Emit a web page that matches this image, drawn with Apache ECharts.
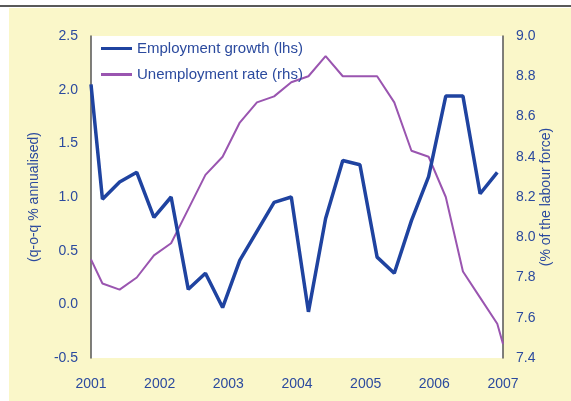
<!DOCTYPE html>
<html>
<head>
<meta charset="utf-8">
<script src="https://cdn.jsdelivr.net/npm/echarts@6/dist/echarts.min.js"></script>
<style>
html,body{margin:0;padding:0;background:#fff;}
#chart{width:571px;height:401px;}
</style>
</head>
<body>
<div id="chart"></div>
<script>
// Dates (year-month); first / last entries are where the lines meet the axis edges
const empDates = ['2001-01','2001-03','2001-06','2001-09','2001-12','2002-03','2002-06','2002-09','2002-12',
  '2003-03','2003-06','2003-09','2003-12','2004-03','2004-06','2004-09','2004-12',
  '2005-03','2005-06','2005-09','2005-12','2006-03','2006-06','2006-09','2006-12'];
const empGrowth = [2.05,0.98,1.14,1.23,0.81,1.00,0.14,0.29,-0.03,
  0.41,0.68,0.95,1.00,-0.07,0.80,1.34,1.30,
  0.44,0.29,0.78,1.19,1.94,1.94,1.03,1.23];
const unempDates = ['2001-01','2001-03','2001-06','2001-09','2001-12','2002-03','2002-06','2002-09','2002-12',
  '2003-03','2003-06','2003-09','2003-12','2004-03','2004-06','2004-09','2004-12',
  '2005-03','2005-06','2005-09','2005-12','2006-03','2006-06','2006-09','2006-12','2007-01'];
const unempRate = [7.89,7.77,7.74,7.80,7.91,7.97,8.14,8.31,8.40,
  8.57,8.67,8.70,8.77,8.80,8.90,8.80,8.80,
  8.80,8.67,8.43,8.40,8.20,7.83,7.70,7.57,7.47];
const yearTicks = [2001,2002,2003,2004,2005,2006,2007];
const leftTicks = [-0.5,0.0,0.5,1.0,1.5,2.0,2.5];
const rightTicks = [7.4,7.6,7.8,8.0,8.2,8.4,8.6,8.8,9.0];
const seriesNames = ['Employment growth (lhs)','Unemployment rate (rhs)'];
const axisNames = ['(q-o-q % annualised)','(% of the labour force)'];

function toYear(s){ const p = s.split('-'); return +p[0] + (+p[1]-1)/12; }
const empData = empDates.map((d,i)=>[toYear(d), empGrowth[i]]);
const unempData = unempDates.map((d,i)=>[toYear(d), unempRate[i]]);

const FONT = '"Liberation Sans",Arial,sans-serif';
const TXT = '#2B4A9E';
const BLUE = '#1F43A0', PURPLE = '#9A55B0';
const chart = echarts.init(document.getElementById('chart'));
chart.setOption({
  animation:false,
  backgroundColor:'#ffffff',
  graphic:[
    {type:'rect', z:-100, silent:true, shape:{x:9,y:8,width:562,height:393}, style:{fill:'#FAF7C9'}},
    {type:'line', z:-100, silent:true, shape:{x1:0,y1:6,x2:571,y2:6}, style:{stroke:'#222',lineWidth:1.5}}
  ],
  grid:{left:91,right:68,top:36,bottom:43,show:true,backgroundColor:'#ffffff',borderWidth:0},
  legend:{
    orient:'vertical', left:96, top:36, itemWidth:31, itemHeight:3, itemGap:11,
    textStyle:{color:TXT,fontFamily:FONT,fontSize:15,padding:[0,0,0,0]},
    data:[
      {name:seriesNames[0], icon:'rect', itemStyle:{color:BLUE}},
      {name:seriesNames[1], icon:'rect', itemStyle:{color:PURPLE}}
    ]
  },
  xAxis:{
    type:'value', min:yearTicks[0], max:yearTicks[yearTicks.length-1], interval:1,
    axisLine:{show:false}, axisTick:{show:false}, splitLine:{show:false},
    axisLabel:{color:TXT,fontFamily:FONT,fontSize:14,margin:19,formatter:v=>String(v)}
  },
  yAxis:[
    {type:'value', min:leftTicks[0], max:leftTicks[leftTicks.length-1], interval:0.5, position:'left',
     name:axisNames[0], nameLocation:'middle', nameGap:50, nameRotate:90, nameMoveOverlap:false,
     nameTextStyle:{color:TXT,fontFamily:FONT,fontSize:14},
     axisLine:{show:true,lineStyle:{color:'#555',width:1.5}}, axisTick:{show:false}, splitLine:{show:false},
     axisLabel:{color:TXT,fontFamily:FONT,fontSize:14,margin:13,formatter:v=>v.toFixed(1)}},
    {type:'value', min:rightTicks[0], max:rightTicks[rightTicks.length-1], interval:0.2, position:'right',
     name:axisNames[1], nameLocation:'middle', nameGap:36, nameRotate:90, nameMoveOverlap:false,
     nameTextStyle:{color:TXT,fontFamily:FONT,fontSize:14},
     axisLine:{show:true,lineStyle:{color:'#555',width:1.5}}, axisTick:{show:false}, splitLine:{show:false},
     axisLabel:{color:TXT,fontFamily:FONT,fontSize:14,margin:13,formatter:v=>v.toFixed(1)}}
  ],
  series:[
    {name:seriesNames[0], type:'line', yAxisIndex:0, data:empData, symbol:'none', clip:true,
     lineStyle:{color:BLUE,width:3.5}, itemStyle:{color:BLUE}, z:3},
    {name:seriesNames[1], type:'line', yAxisIndex:1, data:unempData, symbol:'none', clip:true,
     lineStyle:{color:PURPLE,width:2}, itemStyle:{color:PURPLE}, z:2}
  ]
});
</script>
</body>
</html>
